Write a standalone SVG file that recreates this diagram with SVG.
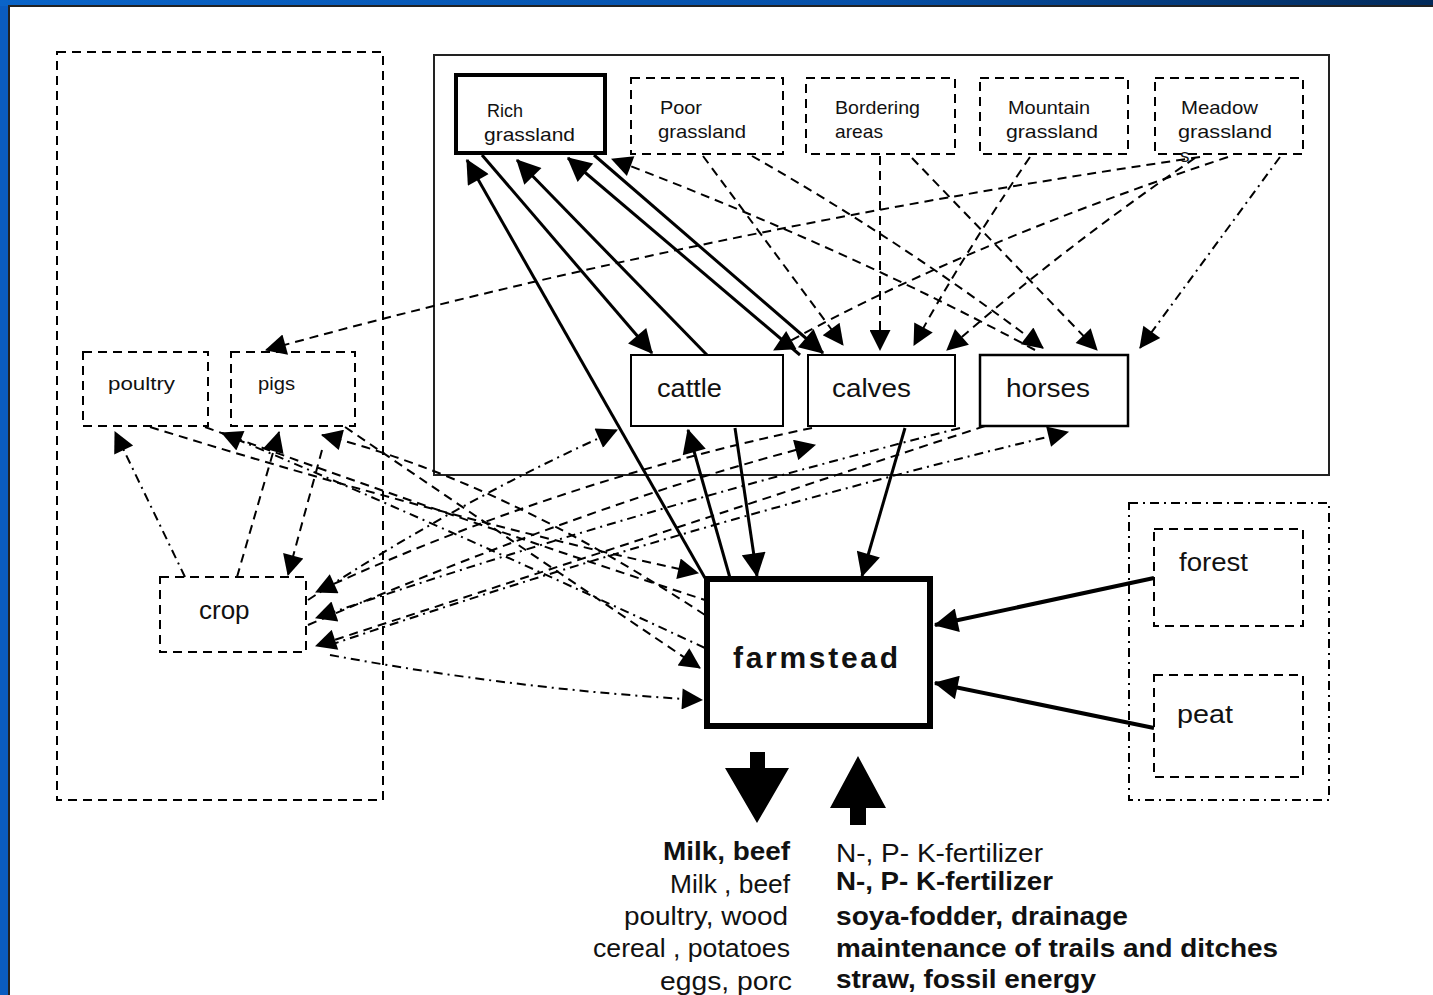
<svg xmlns="http://www.w3.org/2000/svg" width="1433" height="995" viewBox="0 0 1433 995">
<defs>
<linearGradient id="bar" x1="0" y1="0" x2="1" y2="0">
<stop offset="0" stop-color="#0a64c8"/><stop offset="0.6" stop-color="#0650a8"/><stop offset="1" stop-color="#022a5a"/>
</linearGradient>
<marker id="ah" viewBox="0 0 10 10" refX="9.5" refY="5" markerWidth="30" markerHeight="24" markerUnits="userSpaceOnUse" orient="auto"><path d="M0,0 L10,5 L0,10 z" fill="#000"/></marker>
<marker id="ahs" viewBox="0 0 10 10" refX="9.5" refY="5" markerWidth="24" markerHeight="21" markerUnits="userSpaceOnUse" orient="auto"><path d="M0,0 L10,5 L0,10 z" fill="#000"/></marker>
</defs>
<style>
.bg{fill:#fff}
.lbl{font-family:"Liberation Sans",Arial,sans-serif;fill:#111}
.sm{font-size:19px}
.md{font-size:26px}
.box{fill:#fff;stroke:#000;stroke-width:2}
.dbox{fill:none;stroke:#000;stroke-width:2;stroke-dasharray:9 6}
.ddbox{fill:none;stroke:#000;stroke-width:2;stroke-dasharray:9 5 2 5}
.s{fill:none;stroke:#000;stroke-width:3;marker-end:url(#ah)}
.d{fill:none;stroke:#000;stroke-width:2;stroke-dasharray:9 6}
.dd{fill:none;stroke:#000;stroke-width:2;stroke-dasharray:9 5 2 5}
.da{marker-end:url(#ahs)}
.bt{font-family:"Liberation Sans",Arial,sans-serif;font-size:26px;fill:#111}
</style>
<rect x="0" y="0" width="1433" height="995" fill="#0a5cc0"/>
<rect x="0" y="0" width="1433" height="6" fill="url(#bar)"/>
<rect x="8" y="5" width="1425" height="990" fill="#222"/>
<rect x="10" y="7" width="1423" height="988" class="bg"/>

<g id="areas">
<rect x="57" y="52" width="326" height="748" class="dbox"/>
<rect x="434" y="55" width="895" height="420" fill="none" stroke="#222" stroke-width="2"/>
<rect x="1129" y="503" width="200" height="297" class="ddbox"/>
</g>

<g id="connectors">
<path class="d da" d="M1035,350 Q850,250 612,159"/>
<path class="d da" d="M703,156 L843,345"/>
<path class="d da" d="M752,156 Q900,240 1043,348"/>
<path class="d da" d="M880,156 L880,350"/>
<path class="d da" d="M912,158 L1097,350"/>
<path class="d da" d="M1030,157 Q960,260 914,345"/>
<path class="d da" d="M1195,158 Q1060,250 947,350"/>
<path class="d da" d="M1228,157 Q950,250 774,350"/>
<path class="dd da" d="M1280,157 L1140,348"/>
<path class="d da" d="M1200,157 Q700,230 266,350"/>
<path class="d da" d="M150,427 Q450,520 698,573"/>
<path class="d" d="M205,427 Q460,520 705,600"/>
<path class="dd da" d="M705,648 Q430,520 222,433"/>
<path class="d da" d="M345,427 Q540,560 700,668"/>
<path class="d da" d="M705,615 Q500,480 322,435"/>
<path class="dd da" d="M185,577 L115,432"/>
<path class="d da" d="M237,577 L279,432"/>
<path class="d da" d="M322,450 L288,575"/>
<path class="dd da" d="M308,600 Q460,500 617,430"/>
<path class="d da" d="M812,428 Q560,480 316,592"/>
<path class="dd da" d="M960,428 Q600,520 316,618"/>
<path class="d da" d="M308,625 Q600,500 815,445"/>
<path class="d da" d="M985,426 Q640,540 316,646"/>
<path class="dd da" d="M330,645 Q700,520 1068,432"/>
<path class="dd da" d="M330,655 Q520,690 702,700"/>
<path class="s" d="M705,578 L467,160"/>
<path class="s" d="M482,155 L652,353"/>
<path class="s" d="M707,355 L517,160"/>
<path class="s" d="M800,355 L568,158"/>
<path class="s" d="M594,155 L823,353"/>
<path class="s" d="M730,578 L688,430"/>
<path class="s" d="M735,428 L757,576"/>
<path class="s" d="M905,428 L862,576"/>
<path class="s" style="stroke-width:4" d="M1154,578 L935,625"/>
<path class="s" style="stroke-width:4" d="M1154,728 L935,683"/>
</g>

<g id="rich"><rect x="456" y="75" width="149" height="78" fill="#fff" stroke="#000" stroke-width="4"/>
<text class="lbl sm" x="487" y="117" textLength="36" lengthAdjust="spacingAndGlyphs">Rich</text><text class="lbl sm" x="484" y="141" textLength="91" lengthAdjust="spacingAndGlyphs">grassland</text></g>
<g id="poor"><rect x="631" y="78" width="152" height="76" fill="#fff" class="dbox"/>
<text class="lbl sm" x="660" y="114" textLength="42" lengthAdjust="spacingAndGlyphs">Poor</text><text class="lbl sm" x="658" y="138" textLength="88" lengthAdjust="spacingAndGlyphs">grassland</text></g>
<g id="bordering"><rect x="806" y="78" width="149" height="76" fill="#fff" class="dbox"/>
<text class="lbl sm" x="835" y="114" textLength="85" lengthAdjust="spacingAndGlyphs">Bordering</text><text class="lbl sm" x="835" y="138" textLength="48" lengthAdjust="spacingAndGlyphs">areas</text></g>
<g id="mountain"><rect x="980" y="78" width="148" height="76" fill="#fff" class="dbox"/>
<text class="lbl sm" x="1008" y="114" textLength="82" lengthAdjust="spacingAndGlyphs">Mountain</text><text class="lbl sm" x="1006" y="138" textLength="92" lengthAdjust="spacingAndGlyphs">grassland</text></g>
<g id="meadow"><rect x="1155" y="78" width="148" height="76" fill="#fff" class="dbox"/>
<text class="lbl sm" x="1181" y="114" textLength="77" lengthAdjust="spacingAndGlyphs">Meadow</text><text class="lbl sm" x="1178" y="138" textLength="94" lengthAdjust="spacingAndGlyphs">grassland</text><text class="lbl sm" x="1180" y="162">s</text></g>

<g id="poultry"><rect x="83" y="352" width="125" height="74" fill="#fff" class="dbox"/>
<text class="lbl sm" x="108" y="390" textLength="67" lengthAdjust="spacingAndGlyphs">poultry</text></g>
<g id="pigs"><rect x="231" y="352" width="124" height="74" fill="#fff" class="dbox"/>
<text class="lbl sm" x="258" y="390" textLength="37" lengthAdjust="spacingAndGlyphs">pigs</text></g>
<g id="crop"><rect x="160" y="577" width="146" height="75" fill="#fff" class="dbox"/>
<text class="lbl md" x="199" y="619">crop</text></g>

<g id="cattle"><rect x="631" y="355" width="152" height="71" class="box"/>
<text class="lbl md" x="657" y="397" textLength="65" lengthAdjust="spacingAndGlyphs">cattle</text></g>
<g id="calves"><rect x="808" y="355" width="147" height="71" class="box"/>
<text class="lbl md" x="832" y="397" textLength="79" lengthAdjust="spacingAndGlyphs">calves</text></g>
<g id="horses"><rect x="980" y="355" width="148" height="71" class="box" style="stroke-width:2.5"/>
<text class="lbl md" x="1006" y="397" textLength="84" lengthAdjust="spacingAndGlyphs">horses</text></g>

<g id="farmstead"><rect x="707" y="579" width="223" height="147" fill="#fff" stroke="#000" stroke-width="6"/>
<text class="lbl" x="733" y="668" font-size="30" font-weight="bold" textLength="165">farmstead</text></g>

<g id="forest"><rect x="1154" y="529" width="149" height="97" fill="#fff" class="dbox"/>
<text class="lbl md" x="1179" y="571" textLength="69" lengthAdjust="spacingAndGlyphs">forest</text></g>
<g id="peat"><rect x="1154" y="675" width="149" height="102" fill="#fff" class="dbox"/>
<text class="lbl md" x="1177" y="723" textLength="56" lengthAdjust="spacingAndGlyphs">peat</text></g>

<g id="outputs">
<polygon points="750,752 765,752 765,768 789,768 757,823 725,768 750,768" fill="#000"/>
<text class="bt" x="790" y="860" text-anchor="end" font-weight="bold" textLength="127" lengthAdjust="spacingAndGlyphs">Milk, beef</text>
<text class="bt" x="790" y="893" text-anchor="end" textLength="120" lengthAdjust="spacingAndGlyphs">Milk , beef</text>
<text class="bt" x="788" y="925" text-anchor="end" textLength="164" lengthAdjust="spacingAndGlyphs">poultry, wood</text>
<text class="bt" x="790" y="957" text-anchor="end" textLength="197" lengthAdjust="spacingAndGlyphs">cereal , potatoes</text>
<text class="bt" x="792" y="990" text-anchor="end" textLength="132" lengthAdjust="spacingAndGlyphs">eggs, porc</text>
</g>
<g id="inputs">
<polygon points="858,756 886,808 866,808 866,825 850,825 850,808 830,808" fill="#000"/>
<text class="bt" x="836" y="862" textLength="207" lengthAdjust="spacingAndGlyphs">N-, P- K-fertilizer</text>
<text class="bt" x="836" y="890" font-weight="bold" textLength="217" lengthAdjust="spacingAndGlyphs">N-, P- K-fertilizer</text>
<text class="bt" x="836" y="925" font-weight="bold" textLength="292" lengthAdjust="spacingAndGlyphs">soya-fodder, drainage</text>
<text class="bt" x="836" y="957" font-weight="bold" textLength="442" lengthAdjust="spacingAndGlyphs">maintenance of trails and ditches</text>
<text class="bt" x="836" y="988" font-weight="bold" textLength="260" lengthAdjust="spacingAndGlyphs">straw, fossil energy</text>
</g>
</svg>
